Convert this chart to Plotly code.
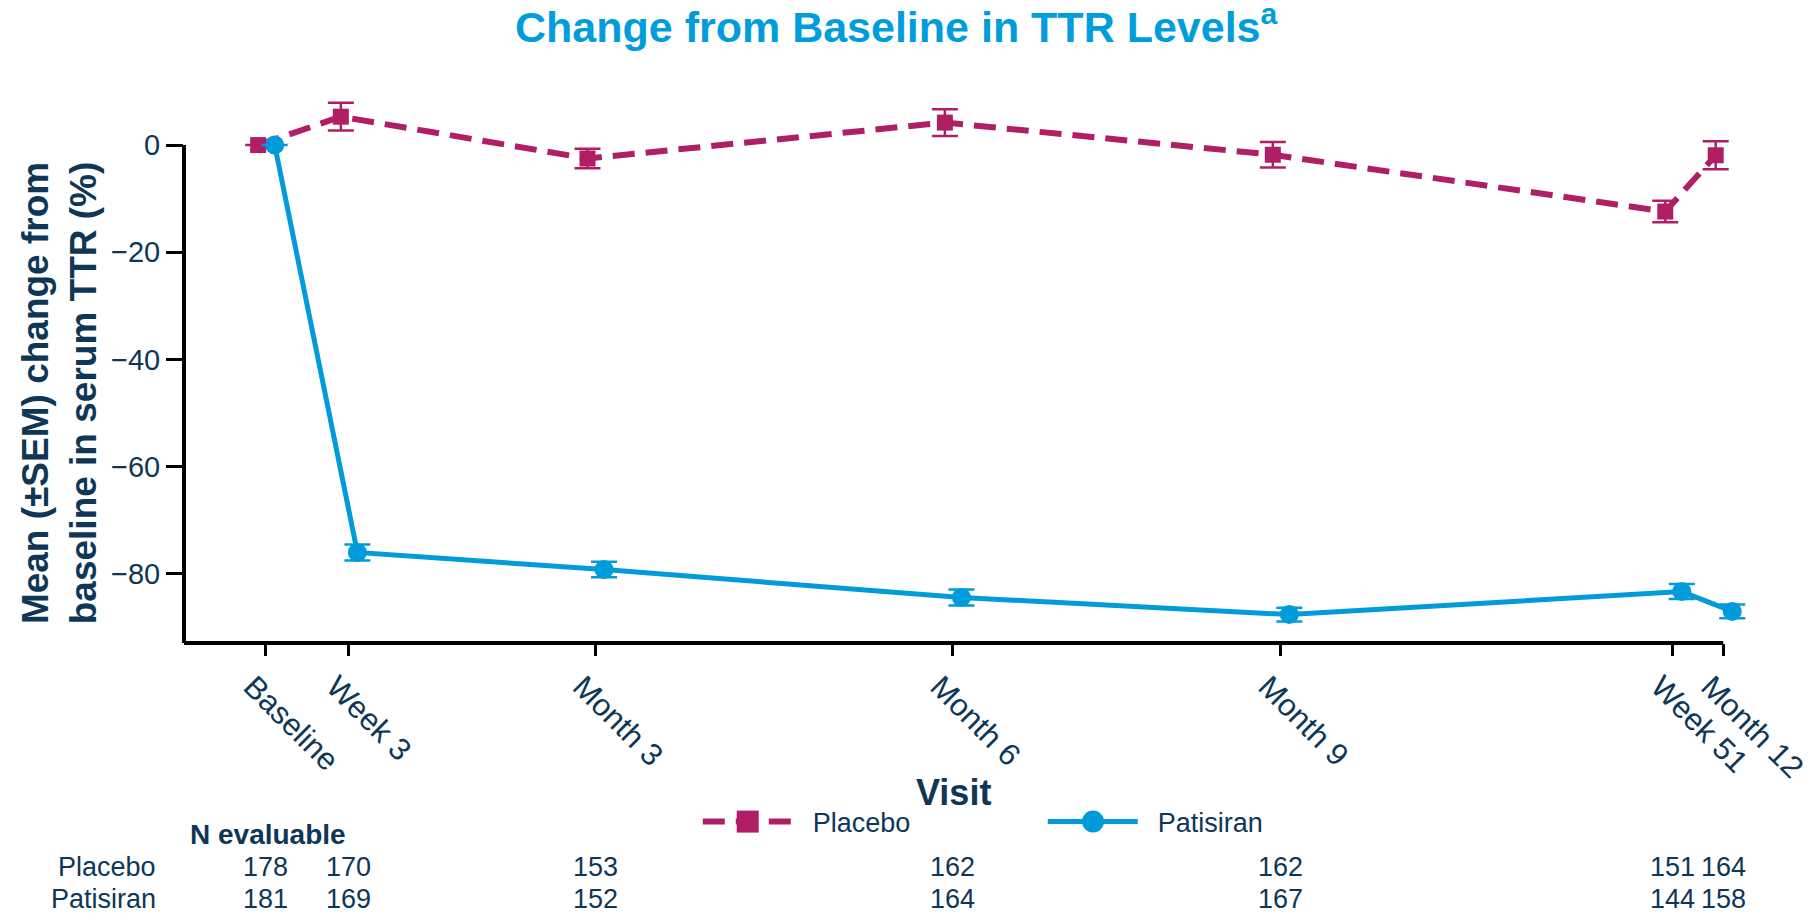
import plotly.graph_objects as go

# visits and their position on the time axis (weeks)
visits = ["Baseline", "Week 3", "Month 3", "Month 6", "Month 9", "Week 51", "Month 12"]
visit_week = [0, 2.95, 11.75, 24.5, 36.2, 50.2, 52.0]

placebo_mean = [0.0, 5.3, -2.5, 4.2, -1.8, -12.4, -1.9]
placebo_sem = [0.0, 2.6, 1.8, 2.5, 2.4, 2.0, 2.6]
patisiran_mean = [0.0, -76.0, -79.2, -84.4, -87.6, -83.3, -87.0]
patisiran_sem = [0.0, 1.5, 1.45, 1.5, 1.3, 1.4, 1.3]

placebo_n = [178, 170, 153, 162, 162, 151, 164]
patisiran_n = [181, 169, 152, 164, 167, 144, 158]

PLACEBO = "#b01f65"
PATISIRAN = "#009bdb"
NAVY = "#0e3757"
FONT = "Liberation Sans, Arial, sans-serif"
NB = "\u00a0\u00a0"

fig = go.Figure()

# small horizontal dodge so the error bars don't overlap
fig.add_trace(go.Scatter(
    x=[w - 0.27 for w in visit_week],
    y=placebo_mean,
    error_y=dict(type="data", array=placebo_sem, color=PLACEBO, thickness=2.5, width=13),
    mode="lines+markers",
    name=NB + "Placebo",
    line=dict(color=PLACEBO, width=6, dash="22px,11px"),
    marker=dict(symbol="square", size=16, color=PLACEBO),
    cliponaxis=False,
))
fig.add_trace(go.Scatter(
    x=[w + 0.32 for w in visit_week],
    y=patisiran_mean,
    error_y=dict(type="data", array=patisiran_sem, color=PATISIRAN, thickness=2.5, width=13),
    mode="lines+markers",
    name=NB + "Patisiran",
    line=dict(color=PATISIRAN, width=5),
    marker=dict(symbol="circle", size=19, color=PATISIRAN),
    cliponaxis=False,
))

y_min, y_max = -92.9, 8.6
x_min, x_max = -2.915, 53.31

# axis spines only span the tick range
fig.add_shape(type="line", xref="paper", yref="y", x0=0, x1=0, y0=y_min, y1=0,
              line=dict(color="black", width=4))
fig.add_shape(type="line", xref="x", yref="paper", x0=x_min, x1=visit_week[-1], y0=0, y1=0,
              line=dict(color="black", width=4))

# bigger legend glyphs (plotly caps legend marker size)
fig.add_shape(type="rect", xref="paper", yref="paper", xsizemode="pixel", ysizemode="pixel",
              xanchor=0.3577, yanchor=-0.3283, x0=-11, x1=11, y0=-11, y1=11,
              fillcolor=PLACEBO, line=dict(width=0))
fig.add_shape(type="circle", xref="paper", yref="paper", xsizemode="pixel", ysizemode="pixel",
              xanchor=0.5768, yanchor=-0.3283, x0=-11, x1=11, y0=-11, y1=11,
              fillcolor=PATISIRAN, line=dict(width=0))

# N evaluable table
fig.add_annotation(text="<b>N evaluable</b>", xref="paper", yref="paper", x=0.0025, y=-0.3513,
                   xanchor="left", yanchor="middle", showarrow=False,
                   font=dict(size=28, color=NAVY, family=FONT))
for label, counts, yy in [("Placebo", placebo_n, -0.4124), ("Patisiran", patisiran_n, -0.4715)]:
    fig.add_annotation(text=label, xref="paper", yref="paper", x=-0.0165, y=yy,
                       xanchor="right", yanchor="middle", showarrow=False,
                       font=dict(size=27, color=NAVY, family=FONT))
    for w, n in zip(visit_week, counts):
        fig.add_annotation(text=str(n), xref="x", yref="paper", x=w, y=yy,
                           xanchor="center", yanchor="middle", showarrow=False,
                           font=dict(size=27, color=NAVY, family=FONT))

# title and axis titles
fig.add_annotation(text="<b>Change from Baseline in TTR Levels<sup>a</sup></b>",
                   xref="paper", yref="paper", x=0.452, y=1.137,
                   xanchor="center", yanchor="middle", showarrow=False,
                   font=dict(size=43, color="#009ddc", family=FONT))
fig.add_annotation(text="<b>Visit</b>", xref="paper", yref="paper", x=0.488, y=-0.2757,
                   xanchor="center", yanchor="middle", showarrow=False,
                   font=dict(size=36, color=NAVY, family=FONT))
fig.add_annotation(text="<b>Mean (±SEM) change from<br>baseline in serum TTR (%)</b>",
                   xref="paper", yref="paper", x=-0.0785, y=0.4596, textangle=-90,
                   xanchor="center", yanchor="middle", showarrow=False,
                   font=dict(size=37, color=NAVY, family=FONT))

fig.update_layout(
    width=1804,
    height=905,
    paper_bgcolor="white",
    plot_bgcolor="white",
    margin=dict(l=176, r=52, t=91, b=270),
    font=dict(family=FONT, color=NAVY, size=28),
    xaxis=dict(
        range=[x_min, x_max],
        tickvals=visit_week,
        ticktext=visits,
        tickangle=45,
        ticks="outside",
        ticklen=12,
        tickwidth=3,
        tickcolor="black",
        ticklabelshift=-13,
        ticklabeloverflow="allow",
        automargin=False,
        showline=False,
        showgrid=False,
        zeroline=False,
        tickfont=dict(size=31, color=NAVY),
    ),
    yaxis=dict(
        range=[y_min, y_max],
        tickvals=[0, -20, -40, -60, -80],
        ticks="outside",
        ticklen=17,
        tickwidth=3,
        tickcolor="black",
        automargin=False,
        showline=False,
        showgrid=False,
        zeroline=False,
        tickfont=dict(size=29, color=NAVY),
    ),
    legend=dict(
        orientation="h",
        x=0.326, xanchor="left",
        y=-0.329, yanchor="middle",
        itemwidth=90,
        entrywidth=240,
        font=dict(size=27, color=NAVY),
        bgcolor="rgba(0,0,0,0)",
    ),
    showlegend=True,
)

fig.write_html("out.html")
